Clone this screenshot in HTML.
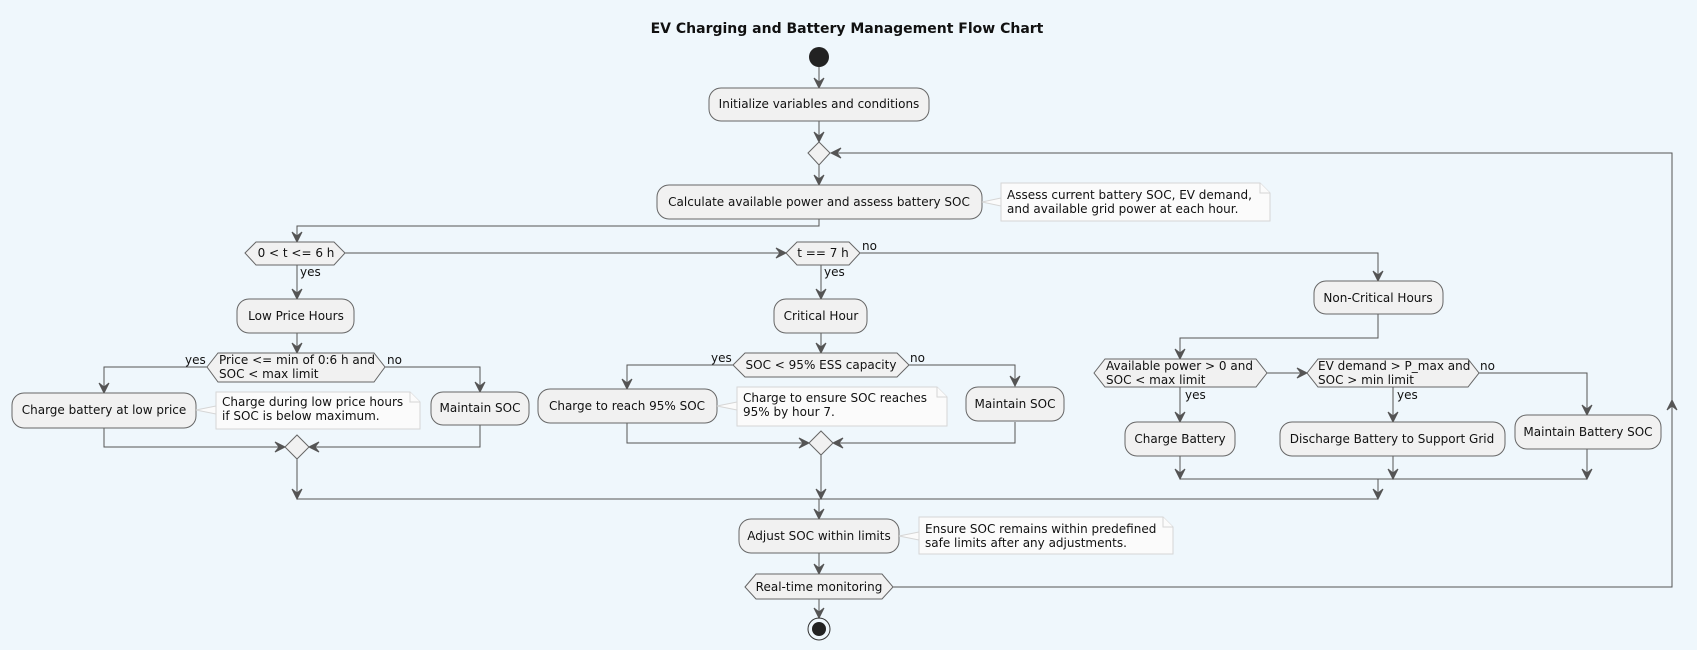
<!DOCTYPE html>
<html><head><meta charset="utf-8"><style>
html,body{margin:0;padding:0;background:#eff7fc;}
svg{display:block;}
text{font-family:"DejaVu Sans","Liberation Sans",sans-serif;font-size:12px;fill:#111;}
.b{fill:#f1f1f1;stroke:#666;stroke-width:1;}
.n{fill:#fbfbfb;stroke:#d6d6d6;stroke-width:1;}
.l{fill:none;stroke:#555;stroke-width:1;}
.a{fill:#555;stroke:#555;stroke-width:1;}
</style></head><body>
<svg width="1697" height="650" viewBox="0 0 1697 650" xmlns="http://www.w3.org/2000/svg">
<rect width="1697" height="650" fill="#eff7fc"/>
<text x="847" y="33" text-anchor="middle" style="font-weight:bold;font-size:14px">EV Charging and Battery Management Flow Chart</text>

<!-- start -->
<circle cx="819" cy="57" r="10" fill="#222"/>

<!-- lines -->
<g class="l">
<path d="M819 67V88M819 121V142M819 165V185"/>
<path d="M819 219V226H297V242"/>
<path d="M345 253H786"/>
<path d="M297 265V299M297 333V353"/>
<path d="M207 367H104V393M385 367H480V392"/>
<path d="M104 428V447H285M480 425V447H309"/>
<path d="M297 459V499H1378"/>
<path d="M821 265V299M821 333V353"/>
<path d="M733 365H627V389M909 365H1015V386"/>
<path d="M627 423V443H809M1015 422V443H833"/>
<path d="M821 455V499"/>
<path d="M860 253H1378V281"/>
<path d="M1378 314V338H1180V359"/>
<path d="M1267 373H1307"/>
<path d="M1180 387V422M1393 387V422"/>
<path d="M1479 373H1587V415"/>
<path d="M1180 456V479M1393 456V479M1587 449V479M1180 479H1587"/>
<path d="M1378 479V499"/>
<path d="M819 499V519M819 553V574M819 599V618"/>
<path d="M893 587H1672V153H831"/>
</g>

<!-- arrowheads -->
<g class="a">
<path d="M819 88l-5 -10l5 4l5 -4z"/>
<path d="M819 142l-5 -10l5 4l5 -4z"/>
<path d="M819 185l-5 -10l5 4l5 -4z"/>
<path d="M297 242l-5 -10l5 4l5 -4z"/>
<path d="M786 253l-10 -5l4 5l-4 5z"/>
<path d="M297 299l-5 -10l5 4l5 -4z"/>
<path d="M297 353l-5 -10l5 4l5 -4z"/>
<path d="M104 393l-5 -10l5 4l5 -4z"/>
<path d="M480 392l-5 -10l5 4l5 -4z"/>
<path d="M285 447l-10 -5l4 5l-4 5z"/>
<path d="M309 447l10 -5l-4 5l4 5z"/>
<path d="M297 499l-5 -10l5 4l5 -4z"/>
<path d="M821 299l-5 -10l5 4l5 -4z"/>
<path d="M821 353l-5 -10l5 4l5 -4z"/>
<path d="M627 389l-5 -10l5 4l5 -4z"/>
<path d="M1015 386l-5 -10l5 4l5 -4z"/>
<path d="M809 443l-10 -5l4 5l-4 5z"/>
<path d="M833 443l10 -5l-4 5l4 5z"/>
<path d="M821 499l-5 -10l5 4l5 -4z"/>
<path d="M1378 281l-5 -10l5 4l5 -4z"/>
<path d="M1180 359l-5 -10l5 4l5 -4z"/>
<path d="M1307 373l-10 -5l4 5l-4 5z"/>
<path d="M1180 422l-5 -10l5 4l5 -4z"/>
<path d="M1393 422l-5 -10l5 4l5 -4z"/>
<path d="M1587 415l-5 -10l5 4l5 -4z"/>
<path d="M1180 479l-5 -10l5 4l5 -4z"/>
<path d="M1393 479l-5 -10l5 4l5 -4z"/>
<path d="M1587 479l-5 -10l5 4l5 -4z"/>
<path d="M1378 499l-5 -10l5 4l5 -4z"/>
<path d="M819 519l-5 -10l5 4l5 -4z"/>
<path d="M819 574l-5 -10l5 4l5 -4z"/>
<path d="M819 618l-5 -10l5 4l5 -4z"/>
<path d="M831 153l10 -5l-4 5l4 5z"/>
<path d="M1672 400l-5 10l5 -4l5 4z"/>
</g>

<!-- boxes -->
<rect class="b" x="709" y="88" width="220" height="33" rx="12"/>
<text x="819" y="108" text-anchor="middle">Initialize variables and conditions</text>

<path class="b" d="M808 153L819 142L830 153L819 165Z"/>

<rect class="b" x="657" y="185" width="325" height="34" rx="12"/>
<text x="819" y="206" text-anchor="middle">Calculate available power and assess battery SOC</text>

<!-- note 1 -->
<path class="n" d="M982 202L1001 198L1001 206Z"/>
<path class="n" d="M1001 183H1260L1270 193V221H1001Z"/>
<path class="n" d="M1260 183V193H1270"/>
<text x="1007" y="199">Assess current battery SOC, EV demand,</text>
<text x="1007" y="213">and available grid power at each hour.</text>

<!-- column 1 -->
<path class="b" d="M245 253L256 242H334L345 253L334 265H256Z"/>
<text x="296" y="257" text-anchor="middle">0 &lt; t &lt;= 6 h</text>
<text x="300" y="276">yes</text>

<rect class="b" x="237" y="299" width="117" height="34" rx="12"/>
<text x="296" y="320" text-anchor="middle">Low Price Hours</text>

<path class="b" d="M207 367L218 353H374L385 367L374 382H218Z"/>
<text x="219" y="364">Price &lt;= min of 0:6 h and</text>
<text x="219" y="378">SOC &lt; max limit</text>
<text x="185" y="364">yes</text>
<text x="387" y="364">no</text>

<rect class="b" x="12" y="393" width="184" height="35" rx="12"/>
<text x="104" y="414" text-anchor="middle">Charge battery at low price</text>

<path class="n" d="M196 410L216 406L216 414Z"/>
<path class="n" d="M216 392H410L420 402V429H216Z"/>
<path class="n" d="M410 392V402H420"/>
<text x="222" y="406">Charge during low price hours</text>
<text x="222" y="420">if SOC is below maximum.</text>

<rect class="b" x="431" y="392" width="98" height="33" rx="12"/>
<text x="480" y="412" text-anchor="middle">Maintain SOC</text>

<path class="b" d="M285 447L297 435L309 447L297 459Z"/>

<!-- column 2 -->
<path class="b" d="M786 253L797 242H849L860 253L849 265H797Z"/>
<text x="823" y="257" text-anchor="middle">t == 7 h</text>
<text x="862" y="250">no</text>
<text x="824" y="276">yes</text>

<rect class="b" x="774" y="299" width="93" height="34" rx="12"/>
<text x="821" y="320" text-anchor="middle">Critical Hour</text>

<path class="b" d="M733 365L745 353H897L909 365L897 377H745Z"/>
<text x="821" y="369" text-anchor="middle">SOC &lt; 95% ESS capacity</text>
<text x="711" y="362">yes</text>
<text x="910" y="362">no</text>

<rect class="b" x="538" y="389" width="179" height="34" rx="12"/>
<text x="627" y="410" text-anchor="middle">Charge to reach 95% SOC</text>

<path class="n" d="M717 406L737 402L737 410Z"/>
<path class="n" d="M737 387H937L947 397V426H737Z"/>
<path class="n" d="M937 387V397H947"/>
<text x="743" y="402">Charge to ensure SOC reaches</text>
<text x="743" y="416">95% by hour 7.</text>

<rect class="b" x="966" y="387" width="98" height="34" rx="12"/>
<text x="1015" y="408" text-anchor="middle">Maintain SOC</text>

<path class="b" d="M809 443L821 431L833 443L821 455Z"/>

<!-- column 3 -->
<rect class="b" x="1314" y="281" width="129" height="33" rx="12"/>
<text x="1378" y="302" text-anchor="middle">Non-Critical Hours</text>

<path class="b" d="M1094 373L1105 359H1256L1267 373L1256 387H1105Z"/>
<text x="1106" y="370">Available power &gt; 0 and</text>
<text x="1106" y="384">SOC &lt; max limit</text>
<text x="1185" y="399">yes</text>

<path class="b" d="M1307 373L1318 359H1468L1479 373L1468 387H1318Z"/>
<text x="1318" y="370">EV demand &gt; P_max and</text>
<text x="1318" y="384">SOC &gt; min limit</text>
<text x="1480" y="370">no</text>
<text x="1397" y="399">yes</text>

<rect class="b" x="1125" y="422" width="110" height="34" rx="12"/>
<text x="1180" y="443" text-anchor="middle">Charge Battery</text>

<rect class="b" x="1280" y="422" width="225" height="34" rx="12"/>
<text x="1392" y="443" text-anchor="middle">Discharge Battery to Support Grid</text>

<rect class="b" x="1515" y="415" width="146" height="34" rx="12"/>
<text x="1588" y="436" text-anchor="middle">Maintain Battery SOC</text>

<!-- bottom -->
<rect class="b" x="739" y="519" width="160" height="34" rx="12"/>
<text x="819" y="540" text-anchor="middle">Adjust SOC within limits</text>

<path class="n" d="M899 536L919 532L919 540Z"/>
<path class="n" d="M919 517H1163L1173 527V554H919Z"/>
<path class="n" d="M1163 517V527H1173"/>
<text x="925" y="533">Ensure SOC remains within predefined</text>
<text x="925" y="547">safe limits after any adjustments.</text>

<path class="b" d="M745 587L756 574H882L893 587L882 599H756Z"/>
<text x="819" y="591" text-anchor="middle">Real-time monitoring</text>

<circle cx="819" cy="629" r="11" fill="none" stroke="#333" stroke-width="1"/>
<circle cx="819" cy="629" r="7" fill="#222"/>
</svg>
</body></html>
